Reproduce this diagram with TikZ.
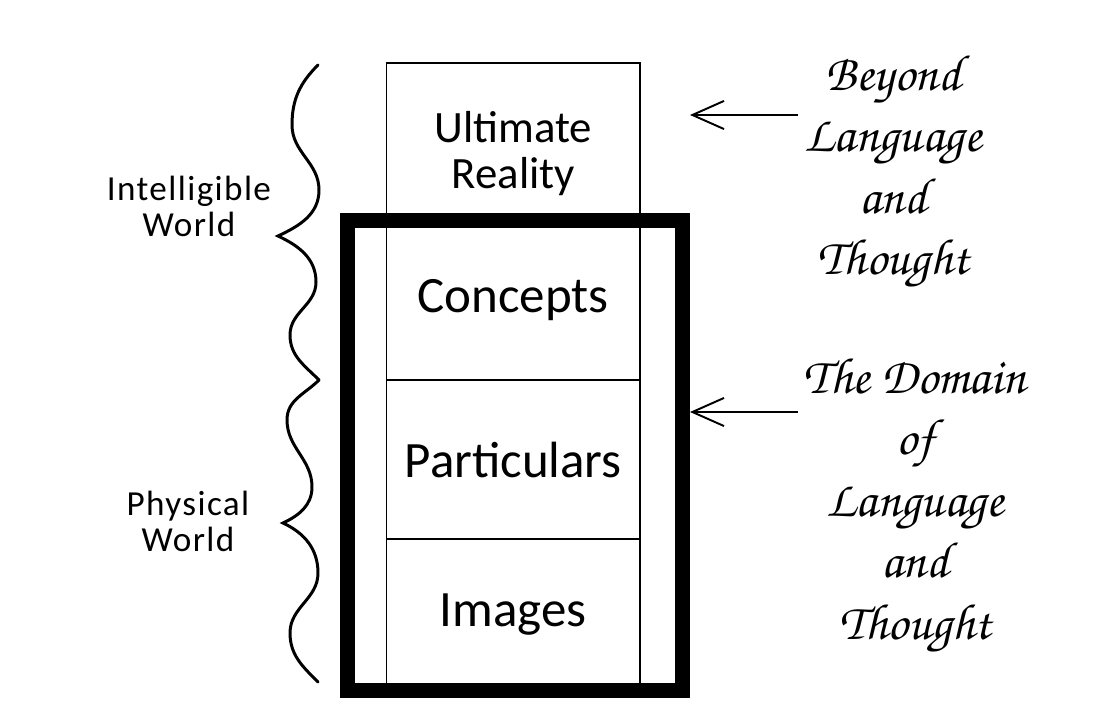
\documentclass[tikz,border=0pt]{standalone}
\usepackage{fontspec}
\setmainfont{Carlito}
\newfontfamily\sidefont[LetterSpace=4]{Carlito}
\newcommand{\scriptface}{\fontencoding{T1}\fontfamily{pzc}\fontseries{mb}\fontshape{it}\selectfont}
\usetikzlibrary{arrows.meta}

\begin{document}
\begin{tikzpicture}[
    cell/.style={draw, line width=1.1pt, minimum width=5.07cm, inner sep=0pt, align=center, font=\fontsize{29}{25}\selectfont},
    side/.style={align=center, font=\sidefont\fontsize{20}{20.5}\selectfont},
    remark/.style={align=center, font=\scriptface\fontsize{29}{35}\selectfont},
    frame/.style={line width=0.3cm},
    brace/.style={line width=1.7pt, line cap=round},
    pointer/.style={-{Straight Barb[length=18pt, width=16pt]}, line width=1.1pt}
]
\useasboundingbox (0,0) rectangle (22.4,14.52);

\node[cell, minimum height=3.15cm] (ultimate) at (10.265,11.685) {};
\node[align=center, font=\fontsize{25.5}{26.5}\selectfont] (ultimatetext) at ([yshift=-0.24cm]ultimate.center) {Ultimate\\Reality};
\node[cell, minimum height=3.19cm] (concepts) at (10.265,8.515) {Concepts};
\node[cell, minimum height=3.18cm] (particulars) at (10.265,5.33) {Particulars};
\node[cell, minimum height=3.02cm] (images) at (10.265,2.23) {Images};

\draw[frame] (6.94,0.71) rectangle (13.64,10.11);

\node[side] (intelligible) at (3.78,10.4) {Intelligible\\World};
\node[side] (physical) at (3.76,4.09) {Physical\\World};

\draw[brace] (6.36,13.22) to[out=225,in=90] (5.84,12.02) to[out=270,in=90] (6.38,10.72)
    to[out=270,in=25] (5.56,9.80) to[out=-25,in=90] (6.32,8.88) to[out=270,in=90] (5.80,7.82)
    to[out=270,in=135] (6.38,6.92);
\draw[brace] (6.38,6.92) to[out=225,in=90] (5.74,6.12) to[out=270,in=90] (6.24,4.78)
    to[out=270,in=25] (5.66,4.06) to[out=-25,in=90] (6.36,3.06) to[out=270,in=90] (5.80,1.86)
    to[out=270,in=135] (6.36,0.88);

\node[remark] (beyond) at (17.86,11.08) {Beyond\\Language\\and\\Thought};
\node[remark] (domain) at (18.3,4.4) {The Domain\\of\\Language\\and\\Thought};

\coordinate (tipA) at (13.8,12.22);
\coordinate (tipB) at (13.8,6.28);
\draw[pointer] (beyond.west |- tipA) -- (tipA);
\draw[pointer] (domain.west |- tipB) -- (tipB);

\end{tikzpicture}
\end{document}
